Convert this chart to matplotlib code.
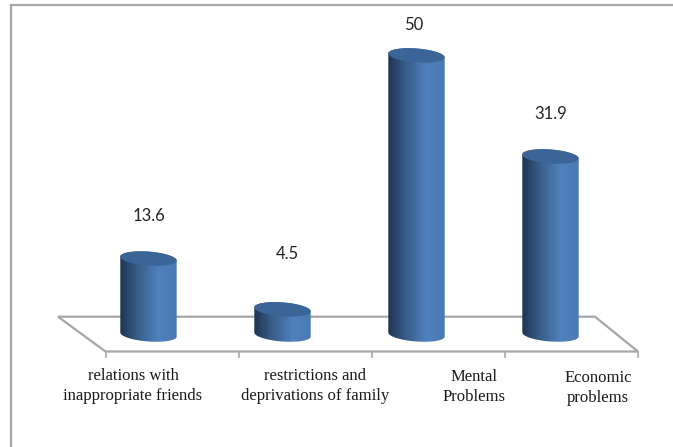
import numpy as np
import matplotlib
matplotlib.use("Agg")
import matplotlib.pyplot as plt
from matplotlib.colors import LinearSegmentedColormap
from matplotlib.patches import PathPatch, Polygon
from matplotlib.path import Path

W, H = 673, 447

categories = ["relations with\ninappropriate friends", "restrictions and\ndeprivations of family", "Mental\nProblems", "Economic\nproblems"]
values = [13.6, 4.5, 50, 31.9]
value_labels = ["13.6", "4.5", "50", "31.9"]

# pixels of the reference
x0, dx = 148.5, 134.0
y0, dy = 334.5, 5.58
half_w, half_h, skew = 28.2, 7.0, 2.0

label_pos = [(133, 386), (315, 386), (474, 387), (598, 388)]
value_pos = [(149, 216), (287, 254), (414, 25), (551, 114)]
tick_x = [105.5, 239, 372, 505, 638]

fig = plt.figure(figsize=(W / 100, H / 100), dpi=100)
ax = fig.add_axes([0, 0, 1, 1])
ax.axis("off")


def px(x, y):
    return (x - x0) / dx, (y0 - y) / dy


cmap = LinearSegmentedColormap.from_list("cyl", [(0, "#1f3350"), (0.3, "#375c88"), (0.68, "#4f81bd"), (1, "#4a7ab3")])


def ellipse_points(cx, cy, start, stop):
    t = np.linspace(start, stop, 60)
    return cx + half_w * np.cos(t), cy - half_h * np.sin(t) + skew * np.cos(t)


# floor
floor = [px(58, 316.7), px(595, 316.7), px(638, 351.5), px(105.5, 351.5)]
ax.add_patch(Polygon(floor, closed=True, fill=False, edgecolor="#a6a6a6", linewidth=1.6, zorder=1))
for tx in tick_x:
    a, b = px(tx, 351.5), px(tx, 356.5)
    ax.plot([a[0], b[0]], [a[1], b[1]], color="#a6a6a6", linewidth=1.2, zorder=1)

# cylinders
for i, v in enumerate(values):
    cx = x0 + i * dx
    top_y = y0 - v * dy
    xt, yt = ellipse_points(cx, top_y, 0, np.pi)
    xb, yb = ellipse_points(cx, y0, np.pi, 2 * np.pi)
    xs = np.r_[xt, xb]
    ys = np.r_[yt, yb]
    verts = [px(a, b) for a, b in zip(xs, ys)]
    im = ax.imshow(np.linspace(0, 1, 128).reshape(1, -1), cmap=cmap, aspect="auto", zorder=2,
                   extent=[i - half_w / dx, i + half_w / dx, -2, v + 3])
    im.set_clip_path(PathPatch(Path(verts + [verts[0]]), transform=ax.transData))

    xa, ya = ellipse_points(cx, top_y, 0, 2 * np.pi)
    ax.fill(*zip(*[px(a, b) for a, b in zip(xa, ya)]), color="#3b6596", linewidth=0, zorder=3)

    ax.text(*px(*value_pos[i]), value_labels[i], ha="center", va="center", fontsize=12,
            family="Lato", color="#222222", zorder=4)
    ax.text(*px(*label_pos[i]), categories[i], ha="center", va="center", fontsize=12,
            family="Liberation Serif", color="#1a1a1a", linespacing=1.3, zorder=4)

# outer frame
for a, b in [((11, 446), (11, 5)), ((11, 5), (673, 5))]:
    p, q = px(*a), px(*b)
    ax.plot([p[0], q[0]], [p[1], q[1]], color="#a6a6a6", linewidth=1.6, zorder=1, clip_on=False)

ax.set_xlim(px(0, 0)[0], px(W, 0)[0])
ax.set_ylim(px(0, H)[1], px(0, 0)[1])
fig.savefig("out.png", dpi=100)
